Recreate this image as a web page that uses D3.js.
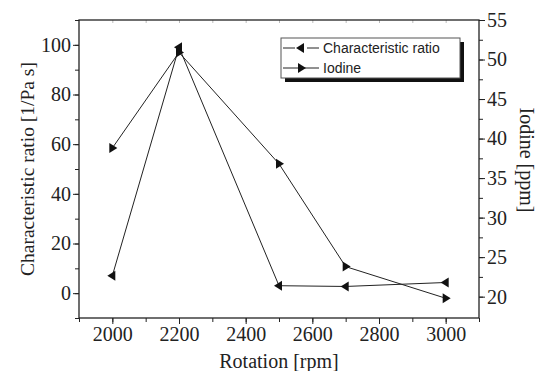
<!DOCTYPE html>
<html>
<head>
<meta charset="utf-8">
<script src="https://cdn.jsdelivr.net/npm/d3@7"></script>
<style>
  body { margin: 0; background: #fff; }
  svg { display: block; }
</style>
</head>
<body>
<svg id="chart"></svg>
<script>
const rotation = [2000, 2200, 2500, 2700, 3000];
const charRatio = [7, 99, 3, 2.7, 4.3];
const iodine = [38.8, 50.9, 36.8, 23.8, 19.8];
const xTicks = [2000, 2200, 2400, 2600, 2800, 3000];
const leftTicks = [0, 20, 40, 60, 80, 100];
const rightTicks = [20, 25, 30, 35, 40, 45, 50, 55];

const width = 537;
const height = 371;
const margin = { top: 20, right: 58, bottom: 53, left: 79 };
const innerWidth = width - margin.left - margin.right;
const innerHeight = height - margin.top - margin.bottom;
const serif = '"Liberation Serif", "Times New Roman", serif';

const svg = d3.select('#chart')
  .attr('width', width)
  .attr('height', height);

const g = svg.append('g')
  .attr('transform', `translate(${margin.left}, ${margin.top})`);

const xScale = d3.scaleLinear().domain([1900, 3100]).range([0, innerWidth]);
const yLeft = d3.scaleLinear().domain([-10, 110]).range([innerHeight, 0]);
const yRight = d3.scaleLinear().domain([17.3, 55]).range([innerHeight, 0]);

function styleAxis(s) {
  s.select('.domain').remove();
  s.attr('font-family', serif).attr('font-size', 20);
  s.selectAll('line').attr('stroke', '#222');
  s.selectAll('text').attr('fill', '#222');
}
function minorAxis(s) {
  s.select('.domain').remove();
  s.selectAll('text').remove();
  s.selectAll('line').attr('stroke', '#222');
}

// minor ticks first, then the labelled ones
g.append('g')
  .attr('transform', `translate(0, ${innerHeight})`)
  .call(d3.axisBottom(xScale).tickValues(d3.range(1900, 3101, 100)).tickSize(4))
  .call(minorAxis);
g.append('g')
  .attr('transform', `translate(0, ${innerHeight})`)
  .call(d3.axisBottom(xScale).tickValues(xTicks).tickSize(6).tickPadding(3).tickFormat(d3.format('d')))
  .call(styleAxis);

g.append('g')
  .call(d3.axisLeft(yLeft).tickValues(d3.range(-10, 111, 10)).tickSize(4))
  .call(minorAxis);
g.append('g')
  .call(d3.axisLeft(yLeft).tickValues(leftTicks).tickSize(6).tickPadding(2))
  .call(styleAxis);

g.append('g')
  .attr('transform', `translate(${innerWidth}, 0)`)
  .call(d3.axisRight(yRight).tickValues(d3.range(20, 55.1, 2.5)).tickSize(4))
  .call(minorAxis);
g.append('g')
  .attr('transform', `translate(${innerWidth}, 0)`)
  .call(d3.axisRight(yRight).tickValues(rightTicks).tickSize(6).tickPadding(2))
  .call(styleAxis);

// faint inward ticks on top
g.append('g')
  .call(d3.axisTop(xScale).tickValues(d3.range(2000, 3001, 100)).tickSize(-3))
  .call(minorAxis)
  .selectAll('line').attr('stroke', '#bbb');

g.append('rect')
  .attr('width', innerWidth)
  .attr('height', innerHeight)
  .attr('fill', 'none')
  .attr('stroke', '#222')
  .attr('stroke-width', 1.3);

const tri = 5;
function leftTri(x, y) {
  return `M${x - tri},${y} L${x + tri * 0.6},${y - tri} L${x + tri * 0.6},${y + tri} Z`;
}
function rightTri(x, y) {
  return `M${x + tri},${y} L${x - tri * 0.6},${y - tri} L${x - tri * 0.6},${y + tri} Z`;
}

const charData = rotation.map((r, i) => ({ x: r, y: charRatio[i] }));
const iodData = rotation.map((r, i) => ({ x: r, y: iodine[i] }));

g.append('path')
  .datum(charData)
  .attr('fill', 'none')
  .attr('stroke', '#222')
  .attr('stroke-width', 1)
  .attr('d', d3.line().x(d => xScale(d.x)).y(d => yLeft(d.y)));

g.append('path')
  .datum(iodData)
  .attr('fill', 'none')
  .attr('stroke', '#222')
  .attr('stroke-width', 1)
  .attr('d', d3.line().x(d => xScale(d.x)).y(d => yRight(d.y)));

g.selectAll('.m-char')
  .data(charData)
  .enter().append('path')
    .attr('class', 'm-char')
    .attr('fill', '#111')
    .attr('d', d => leftTri(xScale(d.x), yLeft(d.y)));

g.selectAll('.m-iod')
  .data(iodData)
  .enter().append('path')
    .attr('class', 'm-iod')
    .attr('fill', '#111')
    .attr('d', d => rightTri(xScale(d.x), yRight(d.y)));

// legend
const lg = svg.append('g').attr('transform', 'translate(281, 38)');
lg.append('rect')
  .attr('x', 4).attr('y', 4)
  .attr('width', 179).attr('height', 40)
  .attr('fill', '#111');
lg.append('rect')
  .attr('width', 179).attr('height', 40)
  .attr('fill', '#fff')
  .attr('stroke', '#555')
  .attr('stroke-width', 1);

const legendItems = [
  { label: 'Characteristic ratio', shape: leftTri, y: 10 },
  { label: 'Iodine', shape: rightTri, y: 30 }
];
legendItems.forEach((item, i) => {
  const row = lg.append('g');
  if (i === 0) {
    row.append('line').attr('x1', 2).attr('x2', 14).attr('y1', item.y).attr('y2', item.y).attr('stroke', '#222');
    row.append('line').attr('x1', 26).attr('x2', 38).attr('y1', item.y).attr('y2', item.y).attr('stroke', '#222');
  } else {
    row.append('line').attr('x1', 2).attr('x2', 38).attr('y1', item.y).attr('y2', item.y).attr('stroke', '#222');
  }
  row.append('path').attr('fill', '#111').attr('d', item.shape(20, item.y));
  row.append('text')
    .attr('x', 42).attr('y', item.y)
    .attr('dy', '0.35em')
    .attr('font-family', '"Liberation Sans", Arial, sans-serif')
    .attr('font-size', 14)
    .attr('fill', '#222')
    .text(item.label);
});

// axis titles
svg.append('text')
  .attr('x', margin.left + xScale(2500))
  .attr('y', 361)
  .attr('dy', '0.35em')
  .attr('text-anchor', 'middle')
  .attr('font-family', serif)
  .attr('font-size', 20)
  .attr('fill', '#222')
  .text('Rotation [rpm]');

svg.append('text')
  .attr('transform', `translate(27, ${margin.top + yLeft(50)}) rotate(-90)`)
  .attr('dy', '0.35em')
  .attr('text-anchor', 'middle')
  .attr('font-family', serif)
  .attr('font-size', 19.5)
  .attr('fill', '#222')
  .text('Characteristic ratio [1/Pa s]');

svg.append('text')
  .attr('transform', `translate(527, 160) rotate(90)`)
  .attr('dy', '0.35em')
  .attr('text-anchor', 'middle')
  .attr('font-family', serif)
  .attr('font-size', 20)
  .attr('fill', '#222')
  .text('Iodine [ppm]');
</script>
</body>
</html>
